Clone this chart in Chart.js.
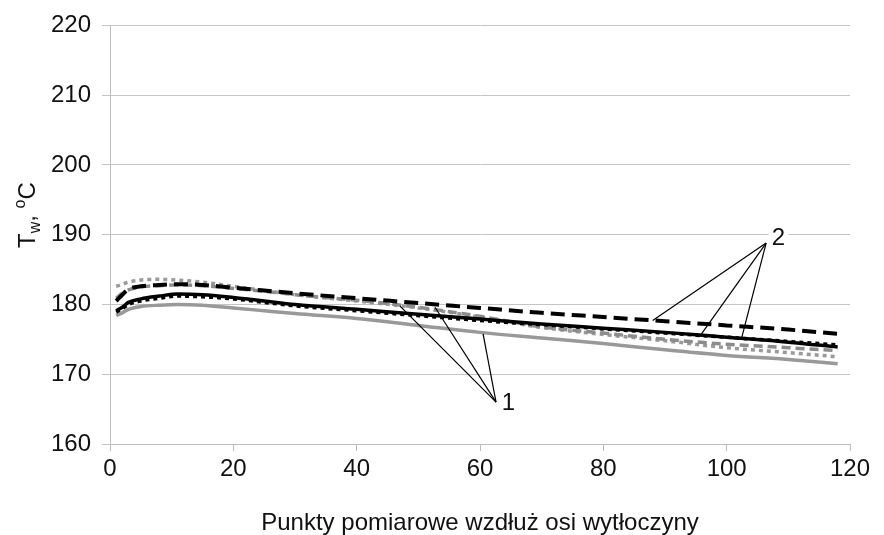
<!DOCTYPE html>
<html>
<head>
<meta charset="utf-8">
<script src="https://cdn.jsdelivr.net/npm/chart.js@4.4.0/dist/chart.umd.min.js"></script>
<style>
  html, body { margin: 0; padding: 0; background: #fff; }
  #wrap { width: 884px; height: 535px; }
</style>
</head>
<body>
<div id="wrap"><canvas id="chart"></canvas></div>
<script>
// measuring points along the axis
const points = [1, 2, 3, 5, 8, 11, 15, 20, 25, 30, 40, 50, 60, 70, 80, 90, 100, 110, 118];

// group 2 (black)
const blackDashed = [180.5, 181.4, 182.2, 182.6, 182.8, 182.9, 182.8, 182.4, 182.0, 181.6, 180.9, 180.2, 179.5, 178.8, 178.2, 177.6, 177.0, 176.4, 175.8];
const blackSolid  = [179.1, 179.6, 180.3, 180.8, 181.2, 181.5, 181.4, 181.0, 180.5, 180.0, 179.3, 178.6, 177.9, 177.2, 176.6, 176.0, 175.3, 174.6, 173.9];
const blackDotted = [178.9, 179.4, 180.0, 180.5, 180.9, 181.2, 181.1, 180.8, 180.3, 179.8, 179.1, 178.4, 177.7, 177.1, 176.5, 175.9, 175.3, 174.7, 174.2];

// group 1 (gray)
const grayDashed = [180.9, 181.6, 182.1, 182.5, 182.7, 182.8, 182.7, 182.3, 181.9, 181.4, 180.6, 179.6, 178.3, 176.8, 175.9, 175.0, 174.3, 173.8, 173.4];
const grayDotted = [182.6, 182.9, 183.2, 183.5, 183.6, 183.5, 183.2, 182.6, 182.0, 181.4, 180.5, 179.5, 178.2, 176.7, 175.7, 174.8, 173.8, 173.1, 172.5];
const graySolid  = [178.4, 178.8, 179.3, 179.7, 179.9, 180.0, 179.9, 179.5, 179.1, 178.7, 178.0, 177.0, 176.0, 175.2, 174.4, 173.5, 172.7, 172.1, 171.5];

// pointer labels (data coords)
const label1 = { text: '1', x: 64.6, y: 165.9 };
const label1From = [62.6, 166.0];
const label1To = [[47.0, 179.8], [52.7, 179.6], [60.5, 175.8]];
const label2 = { text: '2', x: 108.4, y: 189.6 };
const label2From = [106.4, 188.8];
const label2To = [[88.0, 177.7], [95.6, 175.4], [102.4, 175.1]];

const FONT = '"Liberation Sans", Arial, sans-serif';
const pts = arr => points.map((x, i) => ({ x, y: arr[i] }));

const line = (data, color, dash, width) => ({
  data: pts(data),
  borderColor: color,
  borderWidth: width,
  borderDash: dash,
  pointRadius: 0,
  fill: false,
  cubicInterpolationMode: 'monotone'
});

// pointers + labels, drawn through the scales
const pointers = {
  id: 'pointers',
  afterDatasetsDraw(chart) {
    const { ctx, scales: { x, y } } = chart;
    const draw = (lab, from, to, box) => {
      const fx = x.getPixelForValue(from[0]), fy = y.getPixelForValue(from[1]);
      ctx.save();
      ctx.strokeStyle = '#000';
      ctx.lineWidth = 1.2;
      to.forEach(t => {
        ctx.beginPath();
        ctx.moveTo(fx, fy);
        ctx.lineTo(x.getPixelForValue(t[0]), y.getPixelForValue(t[1]));
        ctx.stroke();
      });
      const lx = x.getPixelForValue(lab.x), ly = y.getPixelForValue(lab.y);
      ctx.font = '24px ' + FONT;
      ctx.textAlign = 'center';
      ctx.textBaseline = 'middle';
      if (box) {
        ctx.fillStyle = '#fff';
        ctx.fillRect(lx - 10, ly - 13, 20, 26);
      }
      ctx.fillStyle = '#111';
      ctx.fillText(lab.text, lx, ly + 1);
      ctx.restore();
    };
    draw(label1, label1From, label1To, false);
    draw(label2, label2From, label2To, true);
  }
};

// y axis title: T_w, °C
const yTitle = {
  id: 'yTitle',
  afterDraw(chart) {
    const { ctx } = chart;
    const parts = [
      { t: 'T', size: 24, dy: 0 },
      { t: 'w', size: 16, dy: 5 },
      { t: ', ', size: 24, dy: 0 },
      { t: 'o', size: 16, dy: -10 },
      { t: 'C', size: 24, dy: 0 }
    ];
    ctx.save();
    ctx.translate(35, 248);
    ctx.rotate(-Math.PI / 2);
    ctx.fillStyle = '#111';
    ctx.textBaseline = 'alphabetic';
    let pos = 0;
    parts.forEach(p => {
      ctx.font = p.size + 'px ' + FONT;
      ctx.fillText(p.t, pos, p.dy);
      pos += ctx.measureText(p.t).width;
    });
    ctx.restore();
  }
};

new Chart(document.getElementById('chart'), {
  type: 'line',
  data: {
    datasets: [
      line(blackDashed, '#000', [14, 7], 4),
      line(blackSolid, '#000', [], 3.5),
      line(blackDotted, '#000', [4, 4], 3.5),
      line(grayDashed, '#8c8c8c', [9, 5], 3.5),
      line(grayDotted, '#9a9a9a', [4, 4], 3.5),
      line(graySolid, '#999', [], 3.5)
    ]
  },
  options: {
    responsive: true,
    maintainAspectRatio: false,
    animation: false,
    events: [],
    layout: { padding: { top: 22, right: 34, bottom: 0, left: 0 } },
    plugins: { legend: { display: false }, tooltip: { enabled: false } },
    scales: {
      x: {
        type: 'linear',
        min: 0, max: 120,
        ticks: { stepSize: 20, color: '#111', font: { family: FONT, size: 24 }, padding: 4, maxRotation: 0 },
        grid: { drawOnChartArea: false, drawTicks: true, tickLength: 7, color: '#bdbdbd' },
        border: { display: true, color: '#bdbdbd' },
        title: {
          display: true,
          text: 'Punkty pomiarowe wzdłuż osi wytłoczyny',
          color: '#111',
          font: { family: FONT, size: 24, lineHeight: 1 },
          padding: { top: 0, bottom: 0 }
        },
        afterFit(scale) { scale.height = 91; }
      },
      y: {
        min: 160, max: 220,
        ticks: { stepSize: 10, color: '#111', font: { family: FONT, size: 24 }, padding: 11 },
        grid: { color: '#c4c4c4', tickLength: 8, lineWidth: 1 },
        border: { display: true, color: '#bdbdbd' },
        afterFit(scale) { scale.width = 110; }
      }
    }
  },
  plugins: [pointers, yTitle]
});
</script>
</body>
</html>
